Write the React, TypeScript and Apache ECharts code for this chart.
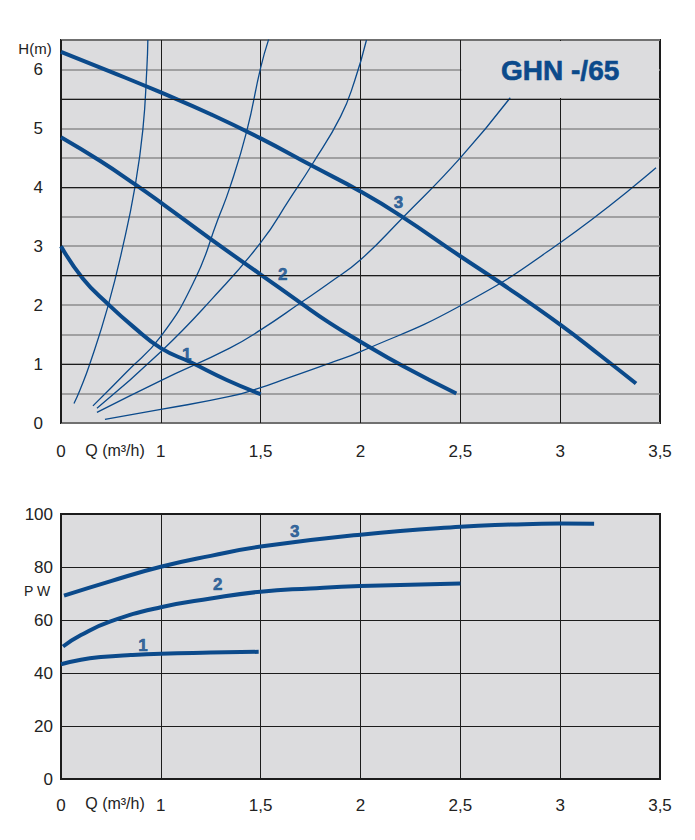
import React, { useEffect, useRef } from "react";
import * as echarts from "echarts";

// ---------- data (Q in m³/h as read on the printed axis) ----------
const qTickLabels = ["0", "1", "1,5", "2", "2,5", "3", "3,5"];
const hTicks = [0, 1, 2, 3, 4, 5, 6];
const pTicks = [0, 20, 40, 60, 80, 100];
const darkHeadLines = [1, 2.5, 4, 5.5];

// pump curves H(Q)
const head1Q = [0, 0.22, 0.47, 0.72, 1.0, 1.15, 1.33, 1.5];
const head1H = [3.0, 2.45, 2.02, 1.64, 1.27, 1.03, 0.73, 0.49];
const head2Q = [0, 0.39, 0.75, 1.0, 1.25, 1.5, 1.7, 1.845, 2.0, 2.21, 2.48];
const head2H = [4.85, 4.45, 4.04, 3.74, 3.12, 2.52, 2.04, 1.7, 1.38, 0.97, 0.5];
const head3Q = [0, 0.5, 1.0, 1.25, 1.5, 1.76, 2.0, 2.2, 2.5, 2.7, 3.0, 3.2, 3.38];
const head3H = [6.3, 5.96, 5.61, 5.24, 4.83, 4.36, 3.93, 3.52, 2.83, 2.38, 1.67, 1.15, 0.67];

// system curves
const sysAQ = [0.13, 0.19, 0.29, 0.47, 0.62, 0.74, 0.82, 0.86, 0.87];
const sysAH = [0.33, 0.56, 1.01, 1.98, 3.0, 4.0, 4.98, 6.02, 6.5];
const sysBQ = [0.32, 0.66, 1.0, 1.17, 1.285, 1.345, 1.43, 1.5, 1.54];
const sysBH = [0.29, 0.87, 1.47, 2.43, 3.45, 3.99, 4.95, 6.03, 6.51];
const sysCQ = [0.36, 1.0, 1.26, 1.5, 1.645, 1.76, 1.9, 1.97, 2.03];
const sysCH = [0.25, 1.21, 2.12, 3.06, 3.8, 4.4, 5.2, 5.8, 6.5];
const sysDQ = [0.36, 1.0, 1.345, 1.5, 1.7, 1.845, 2.0, 2.21, 2.5, 2.75];
const sysDH = [0.18, 0.72, 1.27, 1.58, 2.04, 2.38, 2.77, 3.48, 4.5, 5.52];
const sysEQ = [0.44, 1.0, 1.345, 1.5, 1.6, 1.85, 2.0, 2.5, 3.0, 3.48];
const sysEH = [0.06, 0.23, 0.45, 0.6, 0.72, 1.02, 1.21, 1.99, 3.06, 4.33];

// power curves P(Q)
const pow1Q = [0, 0.2, 0.4, 0.7, 1.0, 1.25, 1.49];
const pow1P = [43.3, 45.0, 46.0, 46.8, 47.3, 47.7, 48.0];
const pow2Q = [0.02, 0.2, 0.49, 1.0, 1.25, 1.5, 1.75, 2.0, 2.5];
const pow2P = [50.0, 54.3, 59.4, 64.8, 68.1, 70.7, 71.9, 72.8, 73.8];
const pow3Q = [0.03, 0.5, 1.0, 1.25, 1.5, 2.0, 2.5, 2.75, 3.0, 3.17];
const pow3P = [69.2, 74.7, 80.1, 84.2, 87.7, 92.2, 95.2, 96.0, 96.4, 96.3];

// curve number labels
const headLabelQ = [1.13, 1.61, 2.19];
const headLabelH = [1.17, 2.52, 3.75];
const powLabelQ = [0.82, 1.285, 1.67];
const powLabelP = [50.3, 73.5, 93.3];
const curveNames = ["1", "2", "3"];

// ---------- style ----------
const BLUE = "#0b4a8b";
const BG = "#dcdcde";
const DARK = "#1c1c1c";
const GREY = "#8c8c8c";
const FONT = '"Liberation Sans", Arial, sans-serif';

const G1 = { left: 61, top: 40, width: 599, height: 383 };
const G2 = { left: 61, top: 514, width: 599, height: 265 };

// the printed Q axis is compressed between 0 and 1
const toAxis = (q: number) => (q <= 1 ? 0.5 + q * 0.5 : q);
const pairs = (qs: number[], vs: number[]) => qs.map((q, i) => [toAxis(q), vs[i]]);

const qFormatter = (v: number) => {
  const idx = Math.round((v - 0.5) / 0.5);
  return qTickLabels[idx] ?? "";
};

export default function App() {
  const ref = useRef<HTMLDivElement>(null);

  useEffect(() => {
    if (!ref.current) return;
    const chart = echarts.init(ref.current, undefined, { renderer: "svg" });

    const thick = (name: string, q: number[], v: number[], gi: number) => ({
      name,
      type: "line",
      xAxisIndex: gi,
      yAxisIndex: gi,
      data: pairs(q, v),
      smooth: 0.5,
      showSymbol: false,
      symbol: "none",
      silent: true,
      lineStyle: { color: BLUE, width: 4 },
      z: 4,
    });
    const thin = (name: string, q: number[], v: number[]) => ({
      name,
      type: "line",
      xAxisIndex: 0,
      yAxisIndex: 0,
      data: pairs(q, v),
      smooth: 0.5,
      showSymbol: false,
      symbol: "none",
      silent: true,
      lineStyle: { color: BLUE, width: 1.3 },
      z: 3,
    });
    const labelSeries = (q: number[], v: number[], gi: number) => ({
      type: "scatter",
      xAxisIndex: gi,
      yAxisIndex: gi,
      symbol: "circle",
      symbolSize: 0.1,
      silent: true,
      itemStyle: { color: BLUE },
      data: q.map((qq, i) => ({ name: curveNames[i], value: [toAxis(qq), v[i]] })),
      label: {
        show: true,
        position: "inside",
        formatter: "{b}",
        color: BLUE,
        fontWeight: "bold",
        fontSize: 17,
        fontFamily: FONT,
        textBorderColor: BLUE,
        textBorderWidth: 0.6,
      },
      z: 5,
    });

    const titleBoxY = G1.top + 1;
    const titleBoxH = G1.height / 6.5 - 2;

    chart.setOption({
      animation: false,
      grid: [
        { ...G1, show: true, backgroundColor: BG, borderColor: DARK, borderWidth: 2, outerBoundsMode: "none" },
        { ...G2, show: true, backgroundColor: BG, borderColor: DARK, borderWidth: 2, outerBoundsMode: "none" },
      ],
      xAxis: [0, 1].map((gi) => ({
        gridIndex: gi,
        type: "value",
        min: 0.5,
        max: 3.5,
        interval: 0.5,
        axisLine: { show: false },
        axisTick: { show: false },
        splitLine: { show: true, lineStyle: { color: DARK, width: 1 } },
        axisLabel: {
          formatter: qFormatter,
          fontSize: 17,
          fontFamily: FONT,
          color: "#222",
          margin: gi === 0 ? 20 : 18,
        },
      })),
      yAxis: [
        {
          gridIndex: 0,
          type: "value",
          min: 0,
          max: 6.5,
          interval: 0.5,
          axisLine: { show: false },
          axisTick: { show: false },
          splitLine: { show: true, lineStyle: { color: GREY, width: 1.5 } },
          axisLabel: {
            formatter: (v: number) => (hTicks.includes(v) ? String(v) : ""),
            fontSize: 17,
            fontFamily: FONT,
            color: "#222",
            margin: 18,
          },
        },
        {
          gridIndex: 1,
          type: "value",
          min: 0,
          max: 100,
          interval: 20,
          axisLine: { show: false },
          axisTick: { show: false },
          splitLine: { show: true, lineStyle: { color: DARK, width: 1 } },
          axisLabel: {
            formatter: (v: number) => (pTicks.includes(v) ? String(v) : ""),
            fontSize: 17,
            fontFamily: FONT,
            color: "#222",
            margin: 8,
            padding: [0, 0, 6, 0],
          },
        },
      ],
      series: [
        {
          type: "line",
          xAxisIndex: 0,
          yAxisIndex: 0,
          data: [[toAxis(0), 0]],
          showSymbol: false,
          symbol: "none",
          silent: true,
          lineStyle: { width: 0 },
          z: 2,
          markLine: {
            silent: true,
            symbol: ["none", "none"],
            label: { show: false },
            lineStyle: { color: DARK, width: 1, type: "solid" },
            data: darkHeadLines.map((h) => ({ yAxis: h })),
          },
        },
        thin("A", sysAQ, sysAH),
        thin("B", sysBQ, sysBH),
        thin("C", sysCQ, sysCH),
        thin("D", sysDQ, sysDH),
        thin("E", sysEQ, sysEH),
        thick("H1", head1Q, head1H, 0),
        thick("H2", head2Q, head2H, 0),
        thick("H3", head3Q, head3H, 0),
        labelSeries(headLabelQ, headLabelH, 0),
        thick("P1", pow1Q, pow1P, 1),
        thick("P2", pow2Q, pow2P, 1),
        thick("P3", pow3Q, pow3P, 1),
        labelSeries(powLabelQ, powLabelP, 1),
      ],
      graphic: [
        {
          type: "rect",
          z: 1,
          silent: true,
          shape: {
            x: G1.left + (G1.width * 2) / 3 + 1,
            y: titleBoxY,
            width: G1.width / 3 - 2,
            height: titleBoxH,
          },
          style: { fill: BG },
        },
        {
          type: "text",
          z: 10,
          x: G1.left + (G1.width * 5) / 6,
          y: 70,
          style: {
            text: "GHN -/65",
            fill: BLUE,
            font: `bold 28px ${FONT}`,
            stroke: BLUE,
            lineWidth: 0.6,
            textAlign: "center",
            textVerticalAlign: "middle",
          },
        },
        {
          type: "text",
          z: 10,
          x: 35,
          y: 48,
          style: {
            text: "H(m)",
            fill: "#222",
            font: `15px ${FONT}`,
            textAlign: "center",
            textVerticalAlign: "middle",
          },
        },
        {
          type: "text",
          z: 10,
          x: 37,
          y: 591,
          style: {
            text: "P W",
            fill: "#222",
            font: `14px ${FONT}`,
            textAlign: "center",
            textVerticalAlign: "middle",
          },
        },
        {
          type: "text",
          z: 10,
          x: 115,
          y: 450,
          style: {
            text: "Q (m³/h)",
            fill: "#222",
            font: `16px ${FONT}`,
            textAlign: "center",
            textVerticalAlign: "middle",
          },
        },
        {
          type: "text",
          z: 10,
          x: 115,
          y: 803,
          style: {
            text: "Q (m³/h)",
            fill: "#222",
            font: `16px ${FONT}`,
            textAlign: "center",
            textVerticalAlign: "middle",
          },
        },
      ],
    });

    return () => chart.dispose();
  }, []);

  return (
    <div
      ref={ref}
      style={{ position: "absolute", left: 0, top: 0, width: 695, height: 840, background: "#fff" }}
    />
  );
}
